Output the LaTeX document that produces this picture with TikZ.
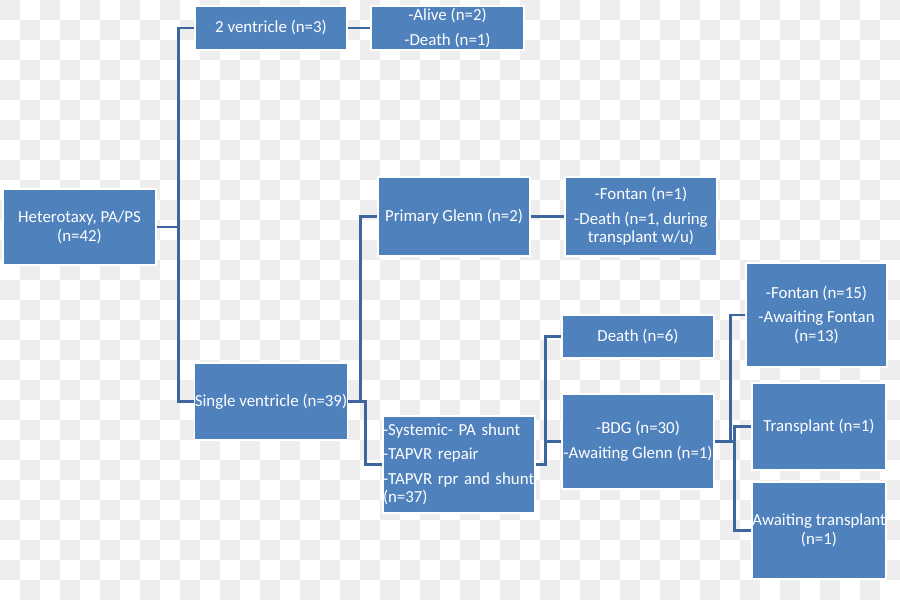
\documentclass[tikz,border=0pt]{standalone}
\usepackage{fontspec}
\setmainfont{Carlito}
\definecolor{boxblue}{HTML}{4F81BD}
\definecolor{linkblue}{RGB}{62,102,158}
\definecolor{checker}{HTML}{EEEEEE}
\tikzset{
  box/.style={rectangle, fill=boxblue, draw=white, line width=0.9pt, text=white,
    align=center, inner sep=0pt, font=\fontsize{14.4}{15.9}\selectfont},
  link/.style={draw=linkblue, line width=2.5pt}
}
\begin{document}
\begin{tikzpicture}[x=0.03cm,y=-0.03cm]
    \useasboundingbox (0,0) rectangle (900,600);
    \fill[white] (0,0) rectangle (900,600);
    \foreach \i in {0,2,...,44} \foreach \j in {0,2,...,28} {
      \fill[checker] (\i*20,\j*20) rectangle ++(20,20);
      \fill[checker] (\i*20+20,\j*20+20) rectangle ++(20,20);
    }
    % boxes
    \node[box, minimum width=4.59cm, minimum height=2.28cm] (het) at (79.5,227) {Heterotaxy, PA/PS\\(n=42)};
    \node[box, minimum width=4.56cm, minimum height=1.32cm] (twovent) at (271,28) {2 ventricle (n=3)};
    \node[box, minimum width=4.59cm, minimum height=1.32cm] (alive) at (447.5,28) {-Alive (n=2)\\[5pt]-Death (n=1)};
    \node[box, minimum width=4.56cm, minimum height=2.31cm] (single) at (271,401.5) {Single ventricle (n=39)};
    \node[box, minimum width=4.56cm, minimum height=2.37cm] (glenn) at (454,216.5) {Primary Glenn (n=2)};
    \node[box, minimum width=4.56cm, minimum height=2.37cm] (glennout) at (641,216.5) {-Fontan (n=1)\\[5pt]-Death (n=1, during\\transplant w/u)};
    \node[box, text width=4.56cm, minimum height=2.91cm, align=left] (shunt) at (459,464.5) {-Systemic- PA shunt\\[5pt]-TAPVR repair\\[5pt]-TAPVR rpr and shunt\\(n=37)};
    \node[box, minimum width=4.56cm, minimum height=1.29cm] (death) at (638,336.5) {Death (n=6)};
    \node[box, minimum width=4.56cm, minimum height=2.85cm] (bdg) at (638,441.5) {-BDG (n=30)\\[5pt]-Awaiting Glenn (n=1)};
    \node[box, minimum width=4.23cm, minimum height=3.12cm] (fontan) at (816.5,315) {-Fontan (n=15)\\[5pt]-Awaiting Fontan\\(n=13)};
    \node[box, minimum width=4.02cm, minimum height=2.61cm] (transplant) at (819,426.5) {Transplant (n=1)};
    \node[box, minimum width=4.02cm, minimum height=2.91cm] (awaiting) at (819,530.5) {Awaiting transplant\\(n=1)};
    % connectors
    \draw[link] (het.east) -- ++(22,0) coordinate (j1);
    \draw[link] (twovent.west) -| (j1) |- (single.west);
    \draw[link] (twovent.east) -- (alive.west);
    \draw[link] (single.east) -- ++(13,0) coordinate (j2) |- (glenn.west);
    \draw[link] (j2) -- ++(5,0) |- (shunt.west);
    \draw[link] (glenn.east) -- (glennout.west);
    \draw[link] (shunt.east) -- ++(10,0) coordinate (j3) |- (death.west);
    \draw[link] (j3) |- (bdg.west);
    \draw[link] (bdg.east) -- ++(16,0) coordinate (j4) |- (fontan.west);
    \draw[link] (j4) -- ++(4,0) coordinate (j5);
    \draw[link] (transplant.west) -| (j5) |- (awaiting.west);
  \end{tikzpicture}
\end{document}
